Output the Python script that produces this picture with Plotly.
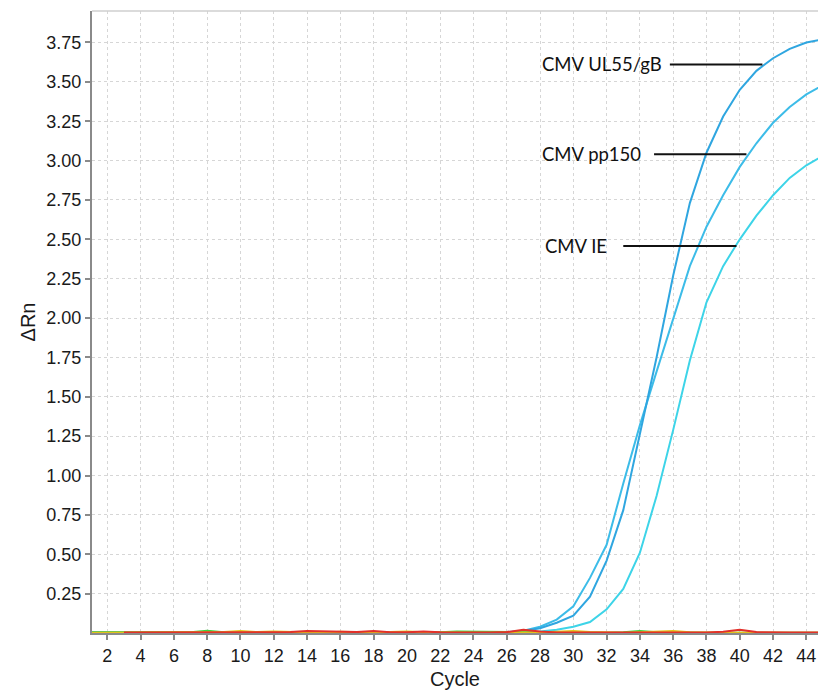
import plotly.graph_objects as go

# ---------------- data ----------------
cycles = list(range(1, 46))

ul55_gb = [0.003] * 25 + [0.005, 0.012, 0.03, 0.065, 0.11, 0.23, 0.46, 0.78, 1.27, 1.75,
                          2.27, 2.73, 3.05, 3.28, 3.45, 3.57, 3.65, 3.71, 3.75, 3.77]
pp150 = [0.003] * 25 + [0.006, 0.015, 0.04, 0.085, 0.17, 0.35, 0.56, 0.95, 1.32, 1.66,
                        2.00, 2.33, 2.58, 2.78, 2.96, 3.11, 3.24, 3.34, 3.42, 3.48]
ie = [0.003] * 26 + [0.005, 0.01, 0.02, 0.04, 0.07, 0.15, 0.28, 0.51, 0.87,
                     1.29, 1.73, 2.10, 2.33, 2.50, 2.65, 2.78, 2.89, 2.97, 3.03]

# near-zero traces of the other wells (negative controls / other channels)
base_green = [0.004, 0.004, 0.003, 0.002, 0.002, 0.002, 0.004, 0.014, 0.004, 0.002,
              0.002, 0.003, 0.002, 0.002, 0.002, 0.002, 0.002, 0.002, 0.002, 0.002,
              0.002, 0.004, 0.009, 0.008, 0.008, 0.007, 0.004, 0.002, 0.002, 0.002,
              0.002, 0.002, 0.004, 0.012, 0.004, 0.002, 0.002, 0.002, 0.002, 0.002,
              0.002, 0.002, 0.002, 0.002, 0.002]
base_yellow = [0.002, 0.002, 0.002, 0.002, 0.002, 0.002, 0.002, 0.004, 0.006, 0.012,
               0.006, 0.01, 0.006, 0.004, 0.002, 0.008, 0.004, 0.003, 0.006, 0.01,
               0.004, 0.002, 0.002, 0.002, 0.002, 0.002, 0.002, 0.004, 0.008, 0.012,
               0.006, 0.002, 0.002, 0.004, 0.006, 0.012, 0.004, 0.002, 0.002, 0.002,
               0.002, 0.002, 0.002, 0.002, 0.002]
base_red = [None, None, 0.003, 0.003, 0.003, 0.003, 0.003, 0.003, 0.003, 0.004,
            0.003, 0.004, 0.006, 0.012, 0.01, 0.004, 0.006, 0.012, 0.005, 0.004,
            0.01, 0.004, 0.003, 0.003, 0.003, 0.006, 0.02, 0.01, 0.003, 0.003,
            0.003, 0.003, 0.003, 0.003, 0.003, 0.003, 0.003, 0.003, 0.008, 0.02,
            0.006, 0.003, 0.003, 0.003, 0.003]

x_ticks = list(range(2, 45, 2))
y_ticks = [0.25, 0.5, 0.75, 1.0, 1.25, 1.5, 1.75, 2.0, 2.25, 2.5, 2.75, 3.0, 3.25, 3.5, 3.75]
y_tick_text = ["%.2f" % v for v in y_ticks]

labels = ["CMV UL55/gB", "CMV pp150", "CMV IE"]

# ---------------- figure ----------------
fig = go.Figure()

for vals, col in [(ie, "#3dd4e8"), (pp150, "#3cbce8"), (ul55_gb, "#2fa6e0")]:
    fig.add_trace(go.Scatter(x=cycles, y=vals, mode="lines",
                             line=dict(color=col, width=2)))

for vals, col in [(base_green, "#3fcf3f"), (base_yellow, "#e2c21c"), (base_red, "#e2302a")]:
    fig.add_trace(go.Scatter(x=cycles, y=vals, mode="lines",
                             line=dict(color=col, width=2), hoverinfo="skip"))

# label positions (layout, not data)
label_pos = [
    # text x, line x0, line x1, y
    (28.0, 35.8, 41.36, 3.611),
    (28.0, 34.85, 40.40, 3.040),
    (28.15, 33.0, 39.80, 2.458),
]
for lab, (tx, lx0, lx1, ly) in zip(labels, label_pos):
    fig.add_annotation(x=tx, y=ly, xref="x", yref="y", text=lab, showarrow=False,
                       xanchor="left", yanchor="middle",
                       font=dict(family="Lato", size=18.5, color="#111111"))
    fig.add_shape(type="line", xref="x", yref="y", x0=lx0, x1=lx1, y0=ly, y1=ly,
                  line=dict(color="#111111", width=2))

# top border of plot
fig.add_shape(type="line", xref="paper", yref="paper", x0=0, x1=1, y0=1, y1=1,
              line=dict(color="#cfcfcf", width=1.5))

axis_font = dict(family="Arial", size=18, color="#1a1a1a")
title_font = dict(family="Arial", size=20, color="#1a1a1a")
fig.update_layout(
    width=818, height=694,
    margin=dict(l=92, r=0, t=11, b=61),
    paper_bgcolor="white", plot_bgcolor="white",
    showlegend=False,
    font=dict(family="Arial"),
)
fig.update_xaxes(
    range=[1.08, 44.7], tickmode="array", tickvals=x_ticks,
    ticks="outside", ticklen=5, tickcolor="#8a8a8a", tickwidth=1.5,
    showline=True, linecolor="#8a8a8a", linewidth=2, layer="below traces",
    showgrid=True, gridcolor="#d6d6d6", gridwidth=1, griddash="3px,3px",
    zeroline=False, tickfont=axis_font, automargin=False,
    title=dict(text="Cycle", font=title_font, standoff=7),
)
fig.update_yaxes(
    range=[0, 3.95], tickmode="array", tickvals=y_ticks, ticktext=y_tick_text,
    ticks="outside", ticklen=5, tickcolor="#8a8a8a", tickwidth=1.5,
    showline=True, linecolor="#8a8a8a", linewidth=2, layer="below traces",
    showgrid=True, gridcolor="#d6d6d6", gridwidth=1, griddash="3px,3px",
    zeroline=False, tickfont=axis_font, automargin=False,
    title=dict(text="ΔRn", font=title_font, standoff=5),
)

# remove the default page margin so the figure fills the 818x694 window exactly
fig.write_html(
    "out.html",
    config={"displayModeBar": False},
    post_script="document.body.style.margin='0';document.body.style.overflow='hidden';",
)
